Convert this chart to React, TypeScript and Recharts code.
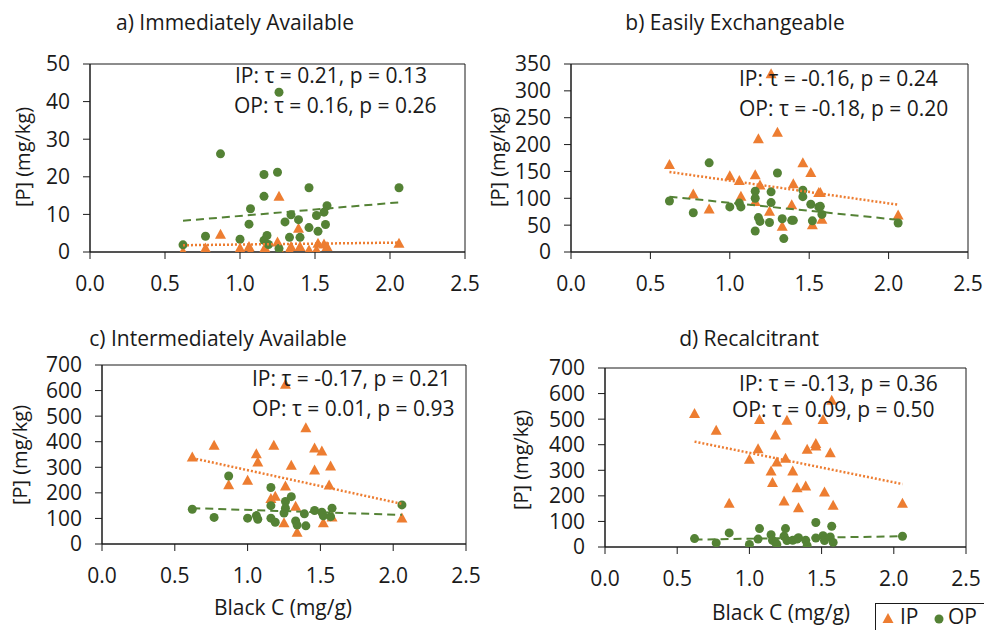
import React from 'react';
import { ScatterChart, Scatter, XAxis, YAxis, ReferenceArea } from 'recharts';

// Black C (mg/g) vs [P] (mg/kg) as [x, y]
const xTicks = [0, 0.5, 1.0, 1.5, 2.0, 2.5];

const aIP = [
  [0.62, 0], [0.77, 0.9], [0.87, 4.6], [1.0, 0.9], [1.06, 1.3], [1.07, 0], [1.16, 0.6], [1.16, 0],
  [1.18, 0], [1.25, 2.5], [1.26, 14.7], [1.27, 0], [1.33, 0.4], [1.34, 1.3], [1.39, 6.2], [1.4, 1.3],
  [1.46, 0.4], [1.51, 0.4], [1.52, 2.2], [1.56, 2.0], [1.58, 1.3], [2.06, 2.2],
];
const aOP = [
  [0.62, 1.9], [0.77, 4.2], [0.87, 26.1], [1.0, 3.4], [1.06, 7.4], [1.07, 11.5], [1.16, 20.6], [1.16, 14.8],
  [1.16, 3.1], [1.18, 4.4], [1.19, 2.0], [1.25, 21.2], [1.26, 42.5], [1.26, 0.9], [1.3, 8.0], [1.33, 3.9],
  [1.34, 9.9], [1.39, 8.6], [1.4, 3.9], [1.46, 17.1], [1.46, 6.5], [1.51, 9.7], [1.52, 5.5], [1.56, 10.6],
  [1.57, 7.3], [1.58, 12.3], [2.06, 17.1],
];
const aIPTrend = [[0.62, 1.8], [2.06, 2.5]];
const aOPTrend = [[0.62, 8.3], [2.06, 13.2]];

const bIP = [
  [0.62, 162], [0.77, 107], [0.87, 79], [1.0, 141], [1.06, 132], [1.07, 103], [1.16, 143], [1.16, 93],
  [1.18, 210], [1.19, 124], [1.25, 75], [1.26, 331], [1.3, 222], [1.33, 47], [1.39, 87], [1.4, 126],
  [1.46, 165], [1.51, 147], [1.52, 50], [1.56, 110], [1.57, 110], [1.58, 60], [2.06, 68],
];
const bOP = [
  [0.62, 95], [0.77, 73], [0.87, 166], [1.0, 84], [1.06, 91], [1.07, 84], [1.16, 113], [1.16, 100],
  [1.16, 39], [1.18, 64], [1.19, 57], [1.25, 55], [1.26, 112], [1.26, 92], [1.3, 147], [1.33, 62],
  [1.34, 25], [1.39, 59], [1.4, 59], [1.46, 115], [1.46, 103], [1.51, 89], [1.52, 58], [1.56, 84],
  [1.57, 85], [1.58, 70], [2.06, 54],
];
const bIPTrend = [[0.62, 149], [2.06, 88]];
const bOPTrend = [[0.62, 103], [2.06, 60]];

const cIP = [
  [0.62, 338], [0.77, 384], [0.87, 230], [1.0, 247], [1.06, 351], [1.07, 319], [1.16, 176], [1.18, 384],
  [1.19, 185], [1.25, 81], [1.26, 623], [1.26, 225], [1.3, 306], [1.33, 146], [1.34, 44], [1.4, 453],
  [1.46, 373], [1.46, 287], [1.51, 362], [1.52, 81], [1.56, 229], [1.57, 303], [1.58, 104], [2.06, 100],
];
const cOP = [
  [0.62, 136], [0.77, 104], [0.87, 266], [1.0, 101], [1.06, 111], [1.07, 97], [1.16, 221], [1.16, 150],
  [1.16, 101], [1.19, 85], [1.25, 121], [1.26, 166], [1.26, 140], [1.3, 185], [1.33, 90], [1.34, 74],
  [1.39, 118], [1.4, 71], [1.46, 131], [1.51, 124], [1.52, 110], [1.57, 107], [1.58, 140], [2.06, 153],
];
const cIPTrend = [[0.62, 336], [2.06, 157]];
const cOPTrend = [[0.62, 140], [2.06, 114]];

const dIP = [
  [0.62, 520], [0.77, 455], [0.86, 169], [1.0, 341], [1.06, 382], [1.07, 497], [1.15, 295], [1.16, 250],
  [1.18, 436], [1.19, 330], [1.24, 178], [1.25, 345], [1.26, 494], [1.3, 295], [1.33, 230], [1.34, 152],
  [1.39, 237], [1.4, 380], [1.46, 403], [1.46, 393], [1.51, 497], [1.52, 213], [1.56, 367], [1.57, 572],
  [1.58, 161], [2.06, 169],
];
const dOP = [
  [0.62, 33], [0.77, 16], [0.86, 55], [1.0, 10], [1.06, 31], [1.07, 72], [1.15, 48], [1.16, 26],
  [1.18, 18], [1.19, 10], [1.24, 42], [1.25, 72], [1.26, 25], [1.3, 26], [1.33, 31], [1.34, 36],
  [1.39, 26], [1.4, 5], [1.46, 96], [1.46, 35], [1.51, 44], [1.52, 25], [1.56, 39], [1.57, 81],
  [1.58, 18], [2.06, 42],
];
const dIPTrend = [[0.62, 412], [2.06, 246]];
const dOPTrend = [[0.62, 29], [2.06, 42]];

const ORANGE = '#ED7D31';
const GREEN = '#548235';
const INK = '#1a1a1a';
const FONT = '"Open Sans", sans-serif';
const FS = 21;

const toPts = (arr: number[][]) => arr.map(([x, y]) => ({ x, y }));

const Triangle = (props: any) => {
  const { cx, cy } = props;
  if (cx == null || cy == null) return <g />;
  return <path d={`M${cx},${cy - 6} L${cx + 5.5},${cy + 4} L${cx - 5.5},${cy + 4} Z`} fill={ORANGE} />;
};
const Dot = (props: any) => {
  const { cx, cy } = props;
  if (cx == null || cy == null) return <g />;
  return <circle cx={cx} cy={cy} r={4.5} fill={GREEN} />;
};
const NoMark = () => <g />;

type PanelProps = {
  box: { x: number; y: number; w: number; h: number };
  yMax: number;
  yTicks: number[];
  ip: number[][];
  op: number[][];
  ipTrend: number[][];
  opTrend: number[][];
};

const Panel = ({ box, yMax, yTicks, ip, op, ipTrend, opTrend }: PanelProps) => {
  const mL = 66, mT = 20, mR = 18, mB = 50;
  const tick = { fill: INK, fontSize: FS, fontFamily: FONT };
  return (
    <div style={{ position: 'absolute', left: box.x - mL, top: box.y - mT }}>
      <ScatterChart
        width={box.w + mL + mR}
        height={box.h + mT + mB}
        margin={{ top: mT, right: mR, bottom: 0, left: 0 }}
      >
        <XAxis
          type="number"
          dataKey="x"
          domain={[0, 2.5]}
          ticks={xTicks}
          interval={0}
          tickFormatter={(v: number) => v.toFixed(1)}
          height={mB}
          tickSize={7}
          tickMargin={17}
          stroke={INK}
          tick={tick}
          allowDataOverflow
        />
        <YAxis
          type="number"
          dataKey="y"
          domain={[0, yMax]}
          ticks={yTicks}
          interval={0}
          width={mL}
          tickSize={7}
          tickMargin={13}
          stroke={INK}
          tick={tick}
          allowDataOverflow
        />
        <ReferenceArea x1={0} x2={2.5} y1={0} y2={yMax} fill="none" stroke={INK} strokeWidth={1} ifOverflow="visible" />
        <Scatter data={toPts(ip)} shape={Triangle} isAnimationActive={false} />
        <Scatter data={toPts(op)} shape={Dot} isAnimationActive={false} />
        <Scatter
          data={toPts(ipTrend)}
          shape={NoMark}
          line={{ stroke: ORANGE, strokeWidth: 2.5, strokeDasharray: '2 2' }}
          lineType="joint"
          isAnimationActive={false}
        />
        <Scatter
          data={toPts(opTrend)}
          shape={NoMark}
          line={{ stroke: GREEN, strokeWidth: 2, strokeDasharray: '8 5' }}
          lineType="joint"
          isAnimationActive={false}
        />
      </ScatterChart>
    </div>
  );
};

const Txt = ({ x, y, children, size = FS, anchor = 'left' }: any) => (
  <div
    style={{
      position: 'absolute',
      left: x,
      top: y,
      fontSize: size,
      fontFamily: FONT,
      color: INK,
      whiteSpace: 'nowrap',
      lineHeight: 1,
      transform: anchor === 'center' ? 'translate(-50%, -50%)' : 'translate(0, -50%)',
    }}
  >
    {children}
  </div>
);

const YLabel = ({ x, y }: { x: number; y: number }) => (
  <div
    style={{
      position: 'absolute',
      left: x,
      top: y,
      fontSize: 20,
      fontFamily: FONT,
      color: INK,
      whiteSpace: 'nowrap',
      lineHeight: 1,
      transform: 'translate(-50%, -50%) rotate(-90deg)',
    }}
  >
    [P] (mg/kg)
  </div>
);

export default function App() {
  return (
    <div style={{ position: 'absolute', left: 0, top: 0, width: 984, height: 630, background: '#fff', overflow: 'hidden' }}>
      <Panel box={{ x: 90, y: 64, w: 375, h: 188 }} yMax={50} yTicks={[0, 10, 20, 30, 40, 50]}
        ip={aIP} op={aOP} ipTrend={aIPTrend} opTrend={aOPTrend} />
      <Panel box={{ x: 571, y: 64, w: 397, h: 188 }} yMax={350} yTicks={[0, 50, 100, 150, 200, 250, 300, 350]}
        ip={bIP} op={bOP} ipTrend={bIPTrend} opTrend={bOPTrend} />
      <Panel box={{ x: 102, y: 365, w: 364, h: 179 }} yMax={700} yTicks={[0, 100, 200, 300, 400, 500, 600, 700]}
        ip={cIP} op={cOP} ipTrend={cIPTrend} opTrend={cOPTrend} />
      <Panel box={{ x: 605, y: 368, w: 361, h: 179 }} yMax={700} yTicks={[0, 100, 200, 300, 400, 500, 600, 700]}
        ip={dIP} op={dOP} ipTrend={dIPTrend} opTrend={dOPTrend} />

      <Txt x={235} y={22} anchor="center">a) Immediately Available</Txt>
      <Txt x={735} y={22} anchor="center">b) Easily Exchangeable</Txt>
      <Txt x={218} y={338} anchor="center">c) Intermediately Available</Txt>
      <Txt x={749} y={338} anchor="center">d) Recalcitrant</Txt>

      <Txt x={235} y={75}>IP: τ = 0.21, p = 0.13</Txt>
      <Txt x={234} y={105}>OP: τ = 0.16, p = 0.26</Txt>
      <Txt x={739} y={78}>IP: τ = -0.16, p = 0.24</Txt>
      <Txt x={739} y={108}>OP: τ = -0.18, p = 0.20</Txt>
      <Txt x={252} y={378}>IP: τ = -0.17, p = 0.21</Txt>
      <Txt x={252} y={408}>OP: τ = 0.01, p = 0.93</Txt>
      <Txt x={739} y={383}>IP: τ = -0.13, p = 0.36</Txt>
      <Txt x={732} y={409}>OP: τ = 0.09, p = 0.50</Txt>

      <YLabel x={23} y={157} />
      <YLabel x={498} y={157} />
      <YLabel x={20} y={455} />
      <YLabel x={521} y={460} />

      <Txt x={283} y={607} anchor="center">Black C (mg/g)</Txt>
      <Txt x={781} y={612} anchor="center">Black C (mg/g)</Txt>

      <div
        style={{
          position: 'absolute', left: 875, top: 603, width: 120, height: 30,
          border: `1px solid ${INK}`, boxSizing: 'border-box',
        }}
      >
        <svg width={120} height={30} style={{ position: 'absolute', left: 0, top: 0 }}>
          <path d="M12,9 L17.5,19 L6.5,19 Z" fill={ORANGE} />
          <circle cx={63} cy={15} r={4.5} fill={GREEN} />
        </svg>
        <span style={{ position: 'absolute', left: 24, top: 1, fontSize: FS, fontFamily: FONT, color: INK, lineHeight: 1.1 }}>IP</span>
        <span style={{ position: 'absolute', left: 72, top: 1, fontSize: FS, fontFamily: FONT, color: INK, lineHeight: 1.1 }}>OP</span>
      </div>
    </div>
  );
}
